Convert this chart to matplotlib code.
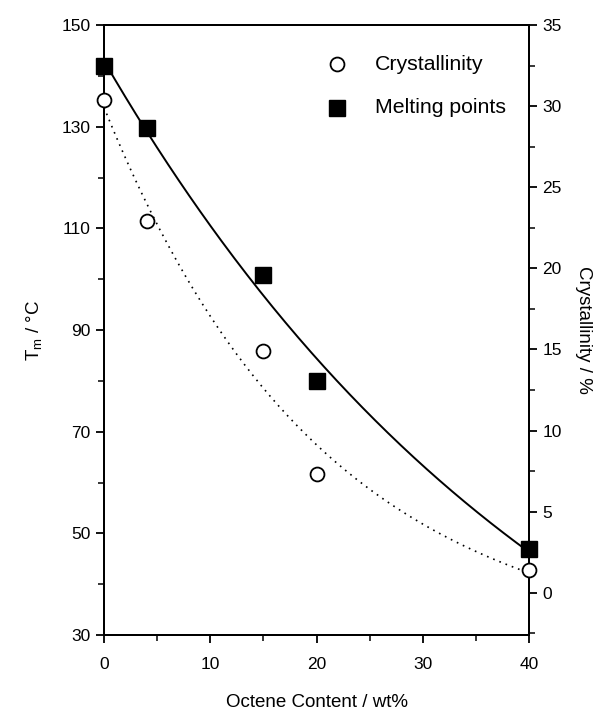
import numpy as np
import matplotlib
matplotlib.use('Agg')
import matplotlib.pyplot as plt
from matplotlib.ticker import MultipleLocator

plt.rcParams['font.family'] = ['Liberation Sans', 'DejaVu Sans']

# data
octene = [0, 4, 15, 20, 40]
melting = [142, 129.8, 100.8, 80, 47]          # Tm / °C (left axis)
crystallinity = [30.4, 22.9, 14.9, 7.3, 1.4]     # % (right axis)


def exp_fit(x, y):
    # y = a*exp(-b*x) + c, b by grid search, a and c by least squares
    x = np.asarray(x, float)
    y = np.asarray(y, float)
    best = None
    for b in np.linspace(0.001, 0.3, 600):
        A = np.column_stack([np.exp(-b * x), np.ones_like(x)])
        coef, res, _, _ = np.linalg.lstsq(A, y, rcond=None)
        err = np.sum((A @ coef - y) ** 2)
        if best is None or err < best[0]:
            best = (err, b, coef)
    _, b, (a, c) = best
    return lambda t: a * np.exp(-b * t) + c


xs = np.linspace(0, 40, 200)
fit_m = exp_fit(octene, melting)
fit_c = exp_fit(octene, crystallinity)

fig = plt.figure(figsize=(6.02, 7.12), dpi=100)
ax = fig.add_axes([0.1728, 0.1081, 0.7059, 0.8568])
ax2 = ax.twinx()

ax.plot(xs, fit_m(xs), color='black', lw=1.4)
ax.plot(octene, melting, 's', color='black', ms=11, clip_on=False, zorder=5)
ax2.plot(xs, fit_c(xs), color='black', lw=1.2, ls=(0, (1, 3)))
ax2.plot(octene, crystallinity, 'o', mfc='white', mec='black', mew=1.3,
         ms=10, clip_on=False, zorder=5)

ax.set_xlim(0, 40)
ax.set_ylim(30, 150)
ax2.set_ylim(-2.6, 35)

ax.xaxis.set_major_locator(MultipleLocator(10))
ax.xaxis.set_minor_locator(MultipleLocator(5))
ax.yaxis.set_major_locator(MultipleLocator(20))
ax.yaxis.set_minor_locator(MultipleLocator(10))
ax2.yaxis.set_major_locator(MultipleLocator(5))
ax2.yaxis.set_minor_locator(MultipleLocator(2.5))

for a in (ax, ax2):
    a.tick_params(which='major', direction='out', length=6, width=1.3, labelsize=12.5)
    a.tick_params(which='minor', direction='out', length=4, width=1.1)
    for s in a.spines.values():
        s.set_linewidth(1.4)
ax.tick_params(top=False, right=False, which='both')
ax.tick_params(axis='x', pad=10)
ax.set_yticks(np.arange(30, 151, 20))

ax.set_xlabel('Octene Content / wt%', fontsize=13.5, labelpad=16)
ax.set_ylabel('T$_\\mathregular{m}$ / °C', fontsize=13.5, labelpad=12)
ax2.set_ylabel('Crystallinity / %', fontsize=13.5, rotation=270, labelpad=22)

# legend drawn as plain text entries
ax.plot([0.548], [0.936], 'o', transform=ax.transAxes, mfc='white', mec='black',
        mew=1.3, ms=10, clip_on=False)
ax.text(0.638, 0.936, 'Crystallinity', transform=ax.transAxes, fontsize=15.3, va='center')
ax.plot([0.548], [0.864], 's', transform=ax.transAxes, color='black', ms=11, clip_on=False)
ax.text(0.638, 0.864, 'Melting points', transform=ax.transAxes, fontsize=15.3, va='center')

fig.savefig('out.png', dpi=100)
